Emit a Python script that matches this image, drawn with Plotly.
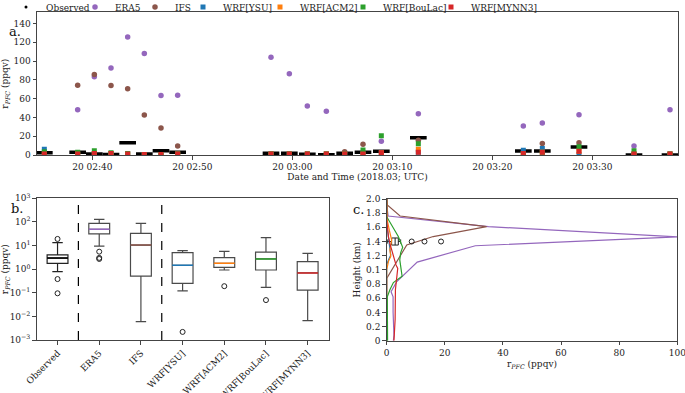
import plotly.graph_objects as go
import pandas as pd

FONT = "DejaVu Serif"
DAY = "2018-03-20 "

# ---------------- panel a data ----------------
times = ["02:35:12", "02:38:32", "02:40:12", "02:41:52", "02:43:32", "02:45:12",
         "02:46:52", "02:48:32", "02:57:52", "02:59:42", "03:01:30", "03:03:24",
         "03:05:14", "03:07:04", "03:08:54", "03:12:36", "03:23:06", "03:25:00",
         "03:28:40", "03:34:10", "03:37:46"]
observed = [2.4, 2.8, 1.0, 0.4, 13, 1.0, 4.5, 3.0, 1.8, 1.8, 0.7, 0.3,
            1.8, 2.8, 3.9, 18.5, 4.2, 4.2, 8.4, 0.0, 0.0]
era5 = [None, 48.3, 83.3, 92.8, 125.7, 108, 63.4, 63.6, 104, 86.5, 52.2, 46.6,
        None, None, 14.7, 44, 30.8, 34, 43, 9.5, 48.3]
ifs = [None, 74.2, 85.8, 73.9, 70.7, 42.7, 28.7, 9.5, None, None, None, None,
       3.5, 11.5, None, 15.7, None, 12.2, 13, None, None]
wrf_ysu = [6.0, 1.0, 1.7, 1.5, 1.0, 0.5, 0.5, 1.0, 1.0, 1.0, 1.0, 1.0,
           1.0, 1.0, 2.5, 3.0, 5.0, 7.0, 0.5, 1.0, 1.0]
wrf_acm2 = [1.0, 1.0, 1.7, 1.5, 1.0, 0.5, 0.5, 1.0, 1.0, 1.0, 1.0, 1.0,
            1.0, 1.0, 2.5, 6.0, 1.5, 3.0, 4.0, 1.0, 1.0]
wrf_boulac = [3.5, 3.0, 4.5, 2.4, 1.5, 0.5, 0.5, 1.0, 1.0, 1.0, 1.0, 1.0,
              1.0, 5.2, 20.6, 12.0, 1.5, 3.0, 8.7, 4.5, 1.0]
wrf_mynn3 = [1.0, 1.0, 1.7, 1.5, 1.0, 0.5, 0.5, 1.0, 1.0, 1.0, 1.0, 1.0,
             1.0, 1.0, 2.5, 3.0, 1.5, 3.0, 4.0, 1.0, 1.0]

# ---------------- panel b data ----------------
box_names = ["Observed", "ERA5", "IFS", "WRF[YSU]", "WRF[ACM2]", "WRF[BouLac]", "WRF[MYNN3]"]
box_q1 = [1.77, 31, 0.51, 0.25, 1.19, 0.92, 0.13]
box_median = [2.95, 48.6, 10.5, 1.45, 1.77, 2.7, 0.69]
box_q3 = [4.0, 87, 33, 5.0, 3.07, 5.3, 2.08]
box_low = [0.78, 9.5, 0.006, 0.12, 0.92, 0.17, 0.0066]
box_high = [13.2, 129, 87, 6.07, 5.7, 21.6, 4.7]
outlier_pos = [0, 0, 0, 1, 1, 1, 3, 4, 5]
outlier_val = [19, 0.38, 0.095, 5.5, 3.0, 2.7, 0.0022, 0.19, 0.049]

# ---------------- panel c data ----------------
era5_px = [2.3, 2.5, 2.2, 2.2, 1.5, 3.4, 10.5, 30.5, 100, 35, 0.5, 0.2, 0]
era5_ph = [0.0, 0.08, 0.4, 0.62, 0.69, 0.83, 1.11, 1.34, 1.465, 1.61, 1.76, 1.85, 2.0]
ifs_px = [0, 0, 6.9, 16, 34.4, 4.6, 0.2, 0]
ifs_ph = [0, 0.88, 1.35, 1.47, 1.61, 1.76, 1.915, 2.0]
ysu_px = [0, 0, 0.6, 1.4, 1.0, 0.6, 0.2, 0, 0]
ysu_ph = [0, 1.07, 1.14, 1.21, 1.33, 1.47, 1.56, 1.65, 2.0]
acm2_px = [0, 0, 0.6, 1.4, 1.1, 1.7, 0.9, 0.2, 0]
acm2_ph = [0, 1.0, 1.12, 1.19, 1.28, 1.42, 1.56, 1.70, 2.0]
boulac_px = [0.3, 0.2, 1.1, 2.3, 5.3, 4.5, 4.8, 5.5, 4.0, 1.1, 0, 0]
boulac_ph = [0, 0.62, 0.72, 0.82, 0.91, 1.14, 1.24, 1.32, 1.47, 1.66, 1.75, 2.0]
mynn3_px = [2.5, 2.9, 3.0, 3.8, 3.2, 2.1, 1.1, 0.6, 0.2, 0, 0]
mynn3_ph = [0, 0.3, 0.72, 1.02, 1.07, 1.21, 1.37, 1.47, 1.59, 1.7, 2.0]
obs_height = 1.4
obs_stats = dict(q1=1.7, median=2.9, q3=4.0, low=0.2, high=4.8)
obs_outliers = [8.6, 13.0, 18.7]

c_tickvals = [0, 0.2, 0.4, 0.6, 0.8, 1.0, 1.2, 1.4, 1.6, 1.8, 2.0]
c_ticktext = ["0", "0.2", "0.4", "0.6", "0.8", "0.1", "1.2", "1.4", "1.6", "1.8", "2.0"]

COL = {"ERA5": "#9467bd", "IFS": "#8c564b", "WRF[YSU]": "#1f77b4",
       "WRF[ACM2]": "#ff7f0e", "WRF[BouLac]": "#2ca02c", "WRF[MYNN3]": "#d62728",
       "Observed": "black"}

W, H = 685, 393
def px_x(a, b):
    return [a / W, b / W]
def px_y(top, bot):
    return [(H - bot) / H, (H - top) / H]

# legend: where each entry's text should start (px)
legend_names = ["Observed", "ERA5", "IFS", "WRF[YSU]", "WRF[ACM2]", "WRF[BouLac]", "WRF[MYNN3]"]
legend_text_px = [43, 112, 172, 220, 297, 380, 468]
TEXT_OFF = 37
legend_ids = ["legend"] + ["legend%d" % k for k in range(2, 8)]
leg_of = dict(zip(legend_names, legend_ids))

t = pd.to_datetime([DAY + s for s in times])
half = pd.Timedelta(seconds=50)

fig = go.Figure()

# observed bars
bx, by = [], []
for ti, v in zip(t, observed):
    bx += [ti - half, ti + half, None]
    by += [v, v, None]
fig.add_trace(go.Scatter(x=bx, y=by, mode="lines", line=dict(color="black", width=3.5),
                         showlegend=False, xaxis="x", yaxis="y", hoverinfo="skip"))
fig.add_trace(go.Scatter(x=[None], y=[None], mode="markers", name="Observed",
                         legend=leg_of["Observed"],
                         marker=dict(color="black", size=3), xaxis="x", yaxis="y"))
for name, vals, sym, sz in [("ERA5", era5, "circle", 5.5), ("IFS", ifs, "circle", 5.5),
                            ("WRF[YSU]", wrf_ysu, "square", 5), ("WRF[ACM2]", wrf_acm2, "square", 5),
                            ("WRF[BouLac]", wrf_boulac, "square", 5), ("WRF[MYNN3]", wrf_mynn3, "square", 5)]:
    fig.add_trace(go.Scatter(x=t, y=vals, mode="markers", name=name, legend=leg_of[name],
                             marker=dict(color=COL[name], size=sz, symbol=sym, line=dict(width=0)),
                             xaxis="x", yaxis="y"))

# panel b boxes
for i, nm in enumerate(box_names):
    fig.add_trace(go.Box(x=[i], q1=[box_q1[i]], median=[box_median[i]], q3=[box_q3[i]],
                         lowerfence=[box_low[i]], upperfence=[box_high[i]],
                         width=0.5, whiskerwidth=0.5, fillcolor="white",
                         line=dict(color="#222" if i == 0 else "#4a4a4a", width=1.2),
                         boxpoints=False, showlegend=False, xaxis="x2", yaxis="y2"))
    fig.add_trace(go.Scatter(x=[i - 0.25, i + 0.25], y=[box_median[i], box_median[i]],
                             mode="lines", line=dict(color=COL[nm], width=1.5),
                             showlegend=False, xaxis="x2", yaxis="y2", hoverinfo="skip"))
fig.add_trace(go.Scatter(x=outlier_pos, y=outlier_val, mode="markers",
                         marker=dict(symbol="circle-open", color="#222", size=5, line=dict(width=1)),
                         showlegend=False, xaxis="x2", yaxis="y2"))

# panel c profiles
for name, px, ph in [("ERA5", era5_px, era5_ph), ("IFS", ifs_px, ifs_ph),
                     ("WRF[YSU]", ysu_px, ysu_ph), ("WRF[ACM2]", acm2_px, acm2_ph),
                     ("WRF[BouLac]", boulac_px, boulac_ph), ("WRF[MYNN3]", mynn3_px, mynn3_ph)]:
    fig.add_trace(go.Scatter(x=px, y=ph, mode="lines", line=dict(color=COL[name], width=1.2),
                             showlegend=False, xaxis="x3", yaxis="y3"))
fig.add_trace(go.Box(y=[obs_height], q1=[obs_stats["q1"]], median=[obs_stats["median"]],
                     q3=[obs_stats["q3"]], lowerfence=[obs_stats["low"]],
                     upperfence=[obs_stats["high"]], orientation="h", width=0.1,
                     whiskerwidth=0.6, fillcolor="white", line=dict(color="#222", width=1),
                     boxpoints=False, showlegend=False, xaxis="x3", yaxis="y3"))
fig.add_trace(go.Scatter(x=obs_outliers, y=[obs_height] * len(obs_outliers), mode="markers",
                         marker=dict(symbol="circle-open", color="#222", size=5, line=dict(width=1)),
                         showlegend=False, xaxis="x3", yaxis="y3"))

axis_common = dict(showline=True, linecolor="#444", linewidth=1, mirror=True,
                   ticks="outside", ticklen=3.5, tickcolor="#444", showgrid=False,
                   zeroline=False, automargin=False, ticklabeloverflow="allow",
                   tickfont=dict(family=FONT, size=9, color="#222"))

ylab = "r<sub><i>PFC</i></sub> (ppqv)"
tfont = dict(family=FONT, size=9, color="#222")

legends = {}
for nm, lid, tpx in zip(legend_names, legend_ids, legend_text_px):
    legends[lid] = dict(orientation="h", x=(tpx - TEXT_OFF) / W, y=(H - 7) / H,
                        yanchor="middle", xanchor="left",
                        font=dict(family=FONT, size=9, color="#222"),
                        bgcolor="rgba(0,0,0,0)", itemwidth=30)

fig.update_layout(
    width=W, height=H, autosize=False,
    margin=dict(l=0, r=0, t=0, b=0, autoexpand=False),
    paper_bgcolor="white", plot_bgcolor="white",
    font=dict(family=FONT, size=9, color="#222"),
    xaxis=dict(domain=px_x(37, 678), anchor="y", type="date",
               range=[DAY + "02:34:28", DAY + "03:38:34"],
               tick0=DAY + "02:40:00", dtick=600000, tickformat="%d %H:%M",
               title=dict(text="Date and Time (2018.03; UTC)", standoff=2, font=tfont),
               **axis_common),
    yaxis=dict(domain=px_y(12.3, 155), anchor="x", range=[0, 152], tickvals=list(range(0, 141, 20)),
               title=dict(text=ylab, standoff=3, font=tfont), **axis_common),
    xaxis2=dict(domain=px_x(36.7, 328.5), anchor="y2", range=[-0.5, 6.5],
                tickvals=list(range(len(box_names))), ticktext=box_names, tickangle=-45,
                **axis_common),
    yaxis2=dict(domain=px_y(198.3, 340), anchor="x2", type="log", range=[-3, 3],
                tickvals=[1e-3, 1e-2, 1e-1, 1, 10, 100, 1000],
                ticktext=["10<sup>−3</sup>", "10<sup>−2</sup>", "10<sup>−1</sup>", "10<sup>0</sup>",
                          "10<sup>1</sup>", "10<sup>2</sup>", "10<sup>3</sup>"],
                title=dict(text=ylab, standoff=3, font=tfont), **axis_common),
    xaxis3=dict(domain=px_x(386.7, 677.3), anchor="y3", range=[0, 100],
                tickvals=[0, 20, 40, 60, 80, 100],
                title=dict(text=ylab, standoff=3, font=tfont), **axis_common),
    yaxis3=dict(domain=px_y(199, 340.7), anchor="x3", range=[0, 2.0],
                tickvals=c_tickvals, ticktext=c_ticktext,
                title=dict(text="Height (km)", standoff=3, font=tfont),
                **axis_common),
    shapes=[dict(type="line", xref="x2", yref="y2 domain", x0=v, x1=v, y0=0, y1=1,
                 line=dict(color="black", width=1.2, dash="dash")) for v in (0.5, 2.5)],
    annotations=[
        dict(text="a.", x=7 / W, y=(H - 22) / H, xref="paper", yref="paper", showarrow=False,
             font=dict(family=FONT, size=13, color="#111")),
        dict(text="b.", x=9 / W, y=(H - 208) / H, xref="paper", yref="paper", showarrow=False,
             font=dict(family=FONT, size=13, color="#111")),
        dict(text="c.", x=358 / W, y=(H - 209) / H, xref="paper", yref="paper", showarrow=False,
             font=dict(family=FONT, size=13, color="#111")),
    ],
    **legends,
)

fig.write_html("out.html", config={"displayModeBar": False},
               post_script="document.body.style.margin='0';document.body.style.overflow='hidden';")
